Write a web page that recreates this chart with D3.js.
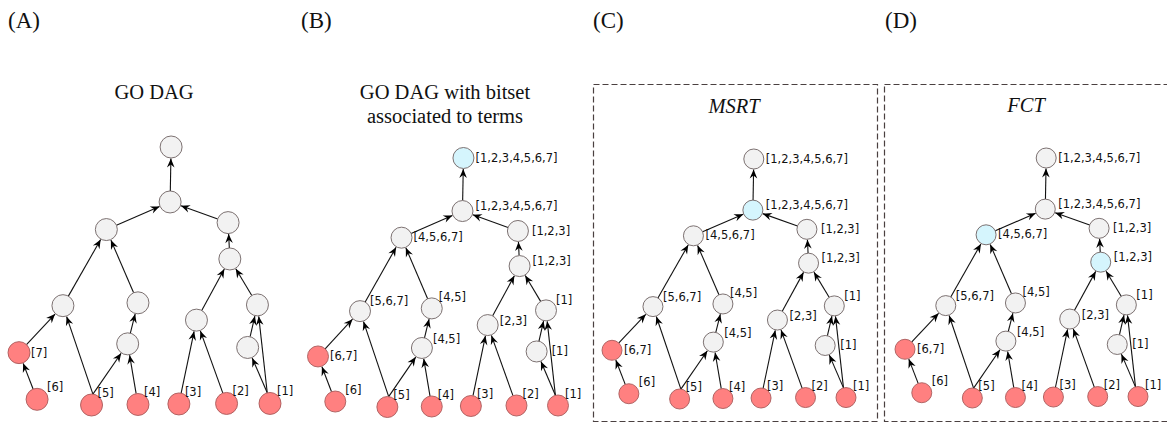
<!DOCTYPE html>
<html>
<head>
<meta charset="utf-8">
<script src="https://cdn.jsdelivr.net/npm/d3@7"></script>
<style>
  body { margin: 0; background: #fff; }
  svg { display: block; }
</style>
</head>
<body>
<div id="viz"></div>
<script>
(function goDags() {
  const svgWidth = 1167;
  const svgHeight = 423;

  const greyFill = '#f2f2f2';
  const greyStroke = '#6e6262';
  const redFill = '#ff8080';
  const redStroke = '#a85a5a';
  const cyanFill = '#d5f5fd';
  const boxColor = '#4a4040';

  // term ids of the DAG, with their layout in a 0-100 box
  const terms = ['top', 'mid', 'l2a', 'l2b', 'chain', 'l3a', 'l3b', 'n23', 'n1r', 'n45', 'n1i', 'red', 'k6', 'k5', 'k4', 'k3', 'k2', 'k1'];
  const layoutX = [60.6, 60.2, 34.8, 83.3, 84.0, 17.5, 47.4, 70.7, 95.0, 43.3, 91.1, 0, 7.2, 28.9, 47.4, 63.7, 82.7, 100];
  const layoutY = [0, 21.3, 32.0, 29.3, 43.4, 61.5, 60.4, 67.1, 61.2, 76.3, 77.7, 79.7, 97.8, 100, 99.8, 99.6, 99.4, 99.4];

  // is_a edges: child -> parent
  const edges = [
    ['mid', 'top'], ['l2a', 'mid'], ['l2b', 'mid'], ['chain', 'l2b'],
    ['l3a', 'l2a'], ['l3b', 'l2a'], ['n23', 'chain'], ['n1r', 'chain'],
    ['n45', 'l3b'], ['n1i', 'n1r'], ['red', 'l3a'], ['k6', 'red'],
    ['k5', 'l3a'], ['k5', 'n45'], ['k4', 'n45'], ['k3', 'n23'],
    ['k2', 'n23'], ['k1', 'n1i'], ['k1', 'n1r'],
  ];

  // annotated terms (red)
  const annotated = ['red', 'k6', 'k5', 'k4', 'k3', 'k2', 'k1'];

  // bitsets
  const directLabels = { red: '[7]', k6: '[6]', k5: '[5]', k4: '[4]', k3: '[3]', k2: '[2]', k1: '[1]' };
  const bitsetLabels = {
    top: '[1,2,3,4,5,6,7]', mid: '[1,2,3,4,5,6,7]', l2a: '[4,5,6,7]', l2b: '[1,2,3]',
    chain: '[1,2,3]', l3a: '[5,6,7]', l3b: '[4,5]', n23: '[2,3]', n1r: '[1]',
    n45: '[4,5]', n1i: '[1]', red: '[6,7]', k6: '[6]', k5: '[5]', k4: '[4]',
    k3: '[3]', k2: '[2]', k1: '[1]',
  };

  const panelLetters = ['(A)', '(B)', '(C)', '(D)'];
  const panelTitles = [['GO DAG'], ['GO DAG with bitset', 'associated to terms'], ['MSRT'], ['FCT']];
  const highlighted = [[], ['top'], ['mid'], ['l2a', 'chain']];

  // label placement next to each node
  const labelOffset = {
    top: [12, 0], mid: [13, -5], l2a: [12, -1], l2b: [14, 0], chain: [13, -5],
    l3a: [10, -10], l3b: [7, -11], n23: [12, -4], n1r: [10, -10], n45: [11, -9],
    n1i: [15, 0], red: [12, 0], k6: [10, -12], k5: [6, -12], k4: [6, -12],
    k3: [6, -12], k2: [6, -12], k1: [7, -12],
  };

  const panels = [
    { x: [19, 270], y: [147, 405], r: 11, labels: directLabels, letterX: 8, titleX: 154, titleY: 99, italic: false, box: null },
    { x: [318, 558], y: [158, 407], r: 10.5, labels: bitsetLabels, letterX: 301, titleX: 445, titleY: 99, italic: false, box: null },
    { x: [612, 846], y: [159, 399], r: 10, labels: bitsetLabels, letterX: 593, titleX: 734, titleY: 113, italic: true, box: [593, 84, 877, 421] },
    { x: [905, 1138], y: [158, 398], r: 10, labels: bitsetLabels, letterX: 885, titleX: 1026, titleY: 112, italic: true, box: [884, 84, 1172, 421] },
  ];

  const svg = d3.select('#viz').append('svg')
    .attr('width', svgWidth)
    .attr('height', svgHeight);

  svg.append('defs').append('marker')
    .attr('id', 'arrow')
    .attr('viewBox', '-10 -5 11 10')
    .attr('refX', 0)
    .attr('refY', 0)
    .attr('markerWidth', 11)
    .attr('markerHeight', 10)
    .attr('markerUnits', 'userSpaceOnUse')
    .attr('orient', 'auto')
    .append('path')
    .attr('d', 'M0,0 L-9,-3.8 L-6,0 L-9,3.8 Z')
    .attr('fill', '#000');

  panels.forEach((p, pi) => {
    const xScale = d3.scaleLinear().domain([0, 100]).range(p.x);
    const yScale = d3.scaleLinear().domain([0, 100]).range(p.y);
    const pos = {};
    terms.forEach((t, i) => { pos[t] = { x: xScale(layoutX[i]), y: yScale(layoutY[i]) }; });

    const g = svg.append('g').attr('class', `panel-${pi}`);

    if (p.box) {
      g.append('rect')
        .attr('x', p.box[0] + 0.5)
        .attr('y', p.box[1] + 0.5)
        .attr('width', p.box[2] - p.box[0])
        .attr('height', p.box[3] - p.box[1])
        .attr('fill', 'none')
        .attr('stroke', boxColor)
        .attr('stroke-width', 1.2)
        .attr('stroke-dasharray', '6,3');
    }

    g.append('text')
      .text(panelLetters[pi])
      .attr('x', p.letterX)
      .attr('y', 28)
      .style('font-family', '"Liberation Serif", serif')
      .style('font-size', '23px')
      .style('fill', '#111');

    panelTitles[pi].forEach((line, li) => {
      g.append('text')
        .text(line)
        .attr('x', p.titleX)
        .attr('y', p.titleY + li * 24)
        .style('text-anchor', 'middle')
        .style('font-family', '"Liberation Serif", serif')
        .style('font-style', p.italic ? 'italic' : 'normal')
        .style('font-size', '20.5px')
        .style('fill', '#111');
    });

    // outgoing direction per child: mean of directions to its parents
    const outDir = {};
    edges.forEach(([c, par]) => {
      const dx = pos[par].x - pos[c].x;
      const dy = pos[par].y - pos[c].y;
      const len = Math.hypot(dx, dy);
      if (!outDir[c]) outDir[c] = { x: 0, y: 0 };
      outDir[c].x += dx / len;
      outDir[c].y += dy / len;
    });

    const edgeLines = edges.map(([c, par]) => {
      const d = outDir[c];
      const dl = Math.hypot(d.x, d.y);
      const sx = pos[c].x + (d.x / dl) * p.r;
      const sy = pos[c].y + (d.y / dl) * p.r;
      const dx = pos[par].x - sx;
      const dy = pos[par].y - sy;
      const len = Math.hypot(dx, dy);
      return {
        x1: sx, y1: sy,
        x2: pos[par].x - (dx / len) * (p.r + 0.5),
        y2: pos[par].y - (dy / len) * (p.r + 0.5),
      };
    });

    g.append('g').attr('class', 'edges')
      .selectAll('line')
      .data(edgeLines)
      .enter()
      .append('line')
      .attr('x1', d => d.x1)
      .attr('y1', d => d.y1)
      .attr('x2', d => d.x2)
      .attr('y2', d => d.y2)
      .attr('stroke', '#111')
      .attr('stroke-width', 1.1)
      .attr('marker-end', 'url(#arrow)');

    const fillOf = (t) => {
      if (annotated.includes(t)) return redFill;
      if (highlighted[pi].includes(t)) return cyanFill;
      return greyFill;
    };

    g.append('g').attr('class', 'nodes')
      .selectAll('circle')
      .data(terms)
      .enter()
      .append('circle')
      .attr('cx', t => pos[t].x)
      .attr('cy', t => pos[t].y)
      .attr('r', p.r)
      .attr('fill', fillOf)
      .attr('stroke', t => (annotated.includes(t) ? redStroke : greyStroke))
      .attr('stroke-width', 0.9);

    g.append('g').attr('class', 'labels')
      .selectAll('text')
      .data(terms.filter(t => p.labels[t]))
      .enter()
      .append('text')
      .text(t => p.labels[t])
      .attr('x', t => pos[t].x + labelOffset[t][0])
      .attr('y', t => pos[t].y + labelOffset[t][1])
      .attr('dominant-baseline', 'central')
      .style('font-family', '"DejaVu Sans", sans-serif')
      .style('font-size', '11.5px')
      .style('fill', '#111');
  });
}());
</script>
</body>
</html>
